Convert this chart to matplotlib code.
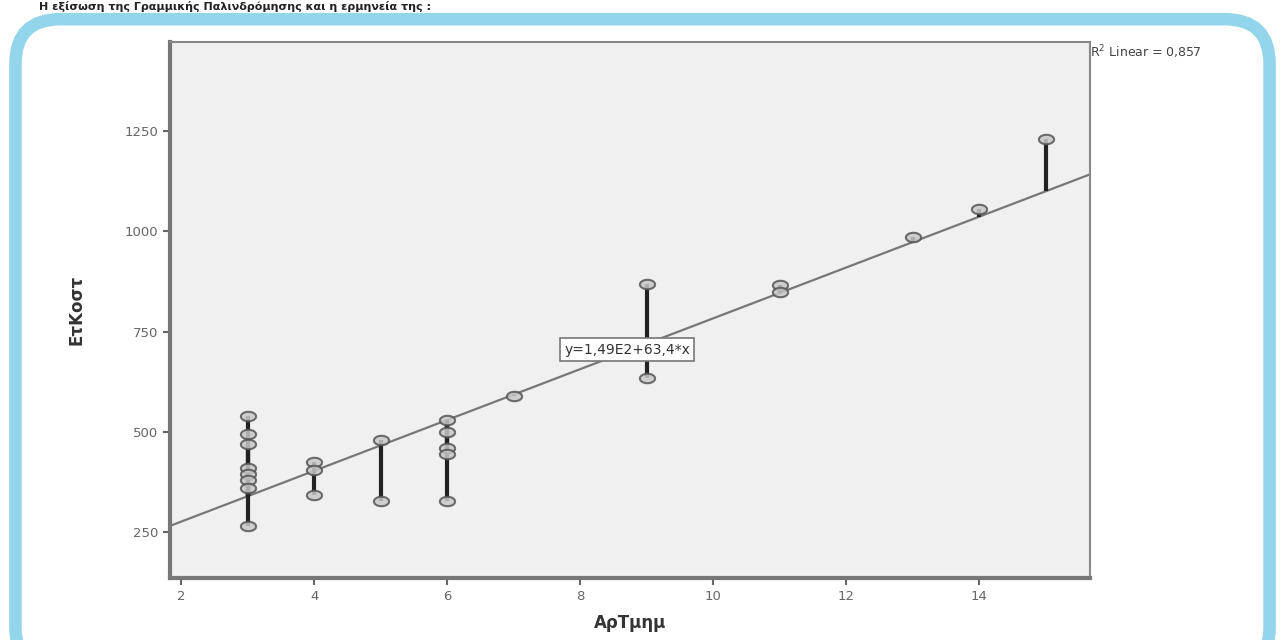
import matplotlib.pyplot as plt
from matplotlib.patches import FancyBboxPatch
import numpy as np

# data
ar_tmim = [3, 3, 3, 3, 3, 3, 3, 3, 4, 4, 4, 5, 5, 6, 6, 6, 6, 6, 7, 9, 9, 11, 11, 13, 14, 15]
et_kost = [540, 495, 470, 410, 395, 380, 360, 265, 425, 405, 343, 480, 328,
           530, 500, 460, 445, 328, 590, 868, 635, 866, 848, 985, 1055, 1230]
intercept = 149.0
slope = 63.4
r2_text = 'R$^2$ Linear = 0,857'
eq_text = 'y=1,49E2+63,4*x'
x_ticks = [2, 4, 6, 8, 10, 12, 14]
y_ticks = [250, 500, 750, 1000, 1250]

fig = plt.figure(figsize=(12.85, 6.4), dpi=100)

# blue rounded frame around the chart
frame = FancyBboxPatch((0.012, -0.05), 0.976, 1.02, boxstyle='round,pad=0,rounding_size=0.035',
                       transform=fig.transFigure, facecolor='white', edgecolor='#93d5ea',
                       linewidth=9, mutation_aspect=2.0, zorder=-1)
fig.patches.append(frame)

fig.text(0.03, 0.999, 'Η εξίσωση της Γραμμικής Παλινδρόμησης και η ερμηνεία της :',
         fontsize=8, fontweight='bold', va='top', ha='left', color='#222222')

ax = fig.add_axes([0.1323, 0.0969, 0.716, 0.837])
ax.set_zorder(2)
ax.set_facecolor('#f0f0f0')

x = np.array(ar_tmim)
y = np.array(et_kost)
fit = intercept + slope * x

# flattened circle marker (the points look squashed in the reference)
t = np.linspace(0, 2 * np.pi, 40)
ellipse = np.column_stack([np.cos(t), 0.62 * np.sin(t)])

xs = np.array([1.83, 15.67])
ax.plot(xs, intercept + slope * xs, color='#777777', linewidth=1.6, zorder=2)
ax.vlines(x, fit, y, color='#222222', linewidth=3, zorder=3)
ax.scatter(x, y, s=120, marker=ellipse, facecolor='#c8c8c8', edgecolor='#555555',
           linewidth=1.5, alpha=0.85, zorder=4)

ax.text(8.71, 705, eq_text, ha='center', va='center', fontsize=10, color='#333333',
        bbox=dict(boxstyle='square,pad=0.3', facecolor='white', edgecolor='#777777', linewidth=1.2),
        zorder=5)

ax.set_xlim(1.83, 15.67)
ax.set_ylim(135, 1472)
ax.set_xticks(x_ticks)
ax.set_yticks(y_ticks)
ax.tick_params(colors='#666666', labelsize=9.5, length=5, width=1.5, direction='out')
for s in ax.spines.values():
    s.set_color('#888888')
    s.set_linewidth(1.5)
ax.spines['left'].set_linewidth(3)
ax.spines['bottom'].set_linewidth(3)
ax.spines['left'].set_color('#777777')
ax.spines['bottom'].set_color('#777777')

ax.set_xlabel('ΑρΤμημ', fontsize=12, fontweight='bold', color='#333333', labelpad=8)
ax.set_ylabel('ΕτΚοστ', fontsize=12, fontweight='bold', color='#333333', labelpad=28)

fig.text(0.848, 0.918, r2_text, fontsize=9, color='#444444', ha='left', va='center')

fig.savefig('out.png', dpi=100)
